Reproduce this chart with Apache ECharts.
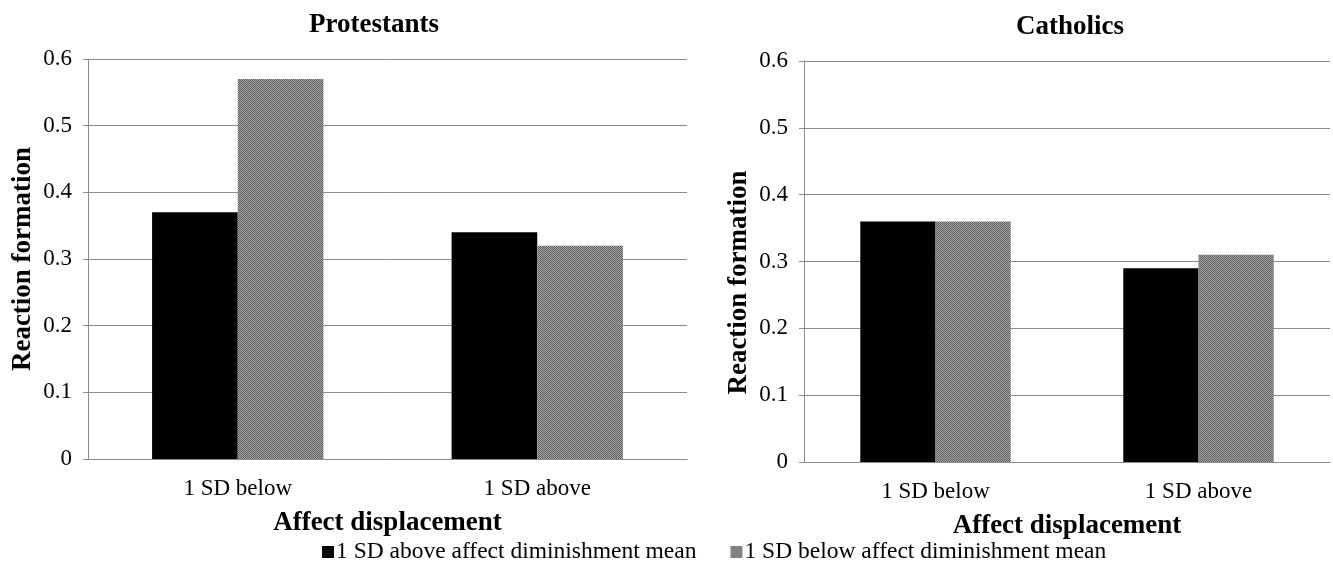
<!DOCTYPE html>
<html style="height: 100%">
<head>
<meta charset="utf-8">
</head>
<body style="height: 100%; margin: 0; background: #fff">
	<div id="container" style="width: 1333px; height: 562px"></div>
	<script type="text/javascript" src="https://cdn.jsdelivr.net/npm/echarts@6/dist/echarts.min.js"></script>
	<script type="text/javascript">
		var categories = ['1 SD below', '1 SD above'];
		var seriesNames = ['1 SD above affect diminishment mean', '1 SD below affect diminishment mean'];
		var protAbove = [0.37, 0.34];
		var protBelow = [0.57, 0.32];
		var cathAbove = [0.36, 0.29];
		var cathBelow = [0.36, 0.31];
		var yTicks = [0, 0.1, 0.2, 0.3, 0.4, 0.5, 0.6];

		// dotted gray fill like the original hatch
		function makePattern() {
			var c = document.createElement('canvas');
			c.width = 4; c.height = 4;
			var ctx = c.getContext('2d');
			ctx.fillStyle = '#a2a2a2';
			ctx.fillRect(0, 0, 4, 4);
			ctx.fillStyle = '#626262';
			for (var i = 0; i < 4; i++) {
				for (var j = 0; j < 4; j++) {
					if ((i + j) % 2 == 0) ctx.fillRect(i, j, 1, 1);
				}
			}
			return { image: c, repeat: 'repeat' };
		}
		var grayFill = makePattern();

		var font = 'Liberation Serif';
		var gridColor = '#8c8c8c';

		function xAxisFor(idx) {
			return {
				type: 'category',
				gridIndex: idx,
				data: categories,
				name: 'Affect displacement',
				nameLocation: 'middle',
				nameGap: 51,
				nameTextStyle: { fontFamily: font, fontWeight: 'bold', fontSize: 27, color: '#000' },
				axisLine: { lineStyle: { color: gridColor, width: 1 } },
				axisTick: { show: false },
				axisLabel: { fontFamily: font, fontSize: 23, color: '#000', margin: 18 }
			};
		}
		function yAxisFor(idx, pad) {
			return {
				type: 'value',
				gridIndex: idx,
				min: 0,
				max: 0.6,
				interval: 0.1,
				name: 'Reaction formation',
				nameLocation: 'middle',
				nameGap: 51,
				nameTextStyle: { fontFamily: font, fontWeight: 'bold', fontSize: 27, color: '#000', padding: pad },
				axisLine: { show: true, lineStyle: { color: gridColor, width: 1 } },
				axisTick: { show: true, length: 5, lineStyle: { color: gridColor } },
				splitLine: { lineStyle: { color: gridColor, width: 1 } },
				axisLabel: {
					fontFamily: font, fontSize: 23, color: '#000', margin: 16,
					formatter: function (v) { return yTicks.indexOf(Math.round(v * 10) / 10) >= 0 ? String(Math.round(v * 10) / 10) : ''; }
				}
			};
		}
		function barSeries(name, data, idx, color) {
			return {
				name: name,
				type: 'bar',
				xAxisIndex: idx,
				yAxisIndex: idx,
				data: data,
				barWidth: '28.6%',
				barGap: '0%',
				itemStyle: { color: color },
				emphasis: { disabled: true }
			};
		}

		var dom = document.getElementById('container');
		var myChart = echarts.init(dom);
		var option = {
			backgroundColor: '#fff',
			animation: false,
			title: [
				{ text: 'Protestants', left: 369, top: 7, textAlign: 'center',
				  textStyle: { fontFamily: font, fontWeight: 'bold', fontSize: 27, color: '#000' } },
				{ text: 'Catholics', left: 1065, top: 9, textAlign: 'center',
				  textStyle: { fontFamily: font, fontWeight: 'bold', fontSize: 27, color: '#000' } }
			],
			legend: {
				top: 535,
				left: 317,
				itemWidth: 12,
				itemHeight: 12,
				itemGap: 34,
				icon: 'rect',
				textStyle: { fontFamily: font, fontSize: 23.5, color: '#000', padding: [0, 0, 0, -3] },
				data: seriesNames
			},
			grid: [
				{ left: 88, right: 646, top: 59, bottom: 103 },
				{ left: 804, right: 3, top: 61, bottom: 100 }
			],
			xAxis: [xAxisFor(0), xAxisFor(1)],
			yAxis: [yAxisFor(0, 0), yAxisFor(1, [0, 42, 0, 0])],
			series: [
				barSeries(seriesNames[0], protAbove, 0, '#000'),
				barSeries(seriesNames[1], protBelow, 0, grayFill),
				barSeries(seriesNames[0], cathAbove, 1, '#000'),
				barSeries(seriesNames[1], cathBelow, 1, grayFill)
			]
		};
		if (option && typeof option === "object") {
			myChart.setOption(option, true);
		}
	</script>
</body>
</html>
